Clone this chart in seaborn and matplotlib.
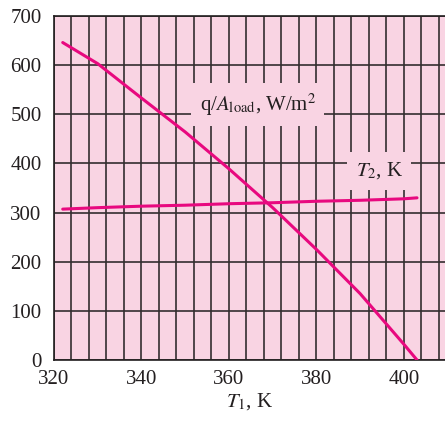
import numpy as np
import pandas as pd
import matplotlib
matplotlib.use("Agg")
import matplotlib.pyplot as plt
import seaborn as sns

# values
t1 = [322, 330, 340, 350, 360, 370, 380, 390, 400, 403]
q_load = [646, 603, 533, 464, 389, 310, 225, 135, 32, 0]
t2 = [307, 310, 313, 315, 318, 320, 323, 325, 328, 330]

x_ticks = [320, 340, 360, 380, 400]
y_ticks = [0, 100, 200, 300, 400, 500, 600, 700]

pink = "#f9d4e3"
magenta = "#e8097f"

df = pd.DataFrame({"T1": t1, "q": q_load, "T2": t2})

sns.set_style("white")
plt.rcParams["font.family"] = ["Liberation Serif", "DejaVu Serif"]
plt.rcParams["mathtext.fontset"] = "stix"

fig = plt.figure(figsize=(4.45, 4.21), dpi=100)
ax = fig.add_axes([0.1213, 0.1449, 0.8787, 0.8171])
ax.set_facecolor(pink)

sns.lineplot(data=df, x="T1", y="q", color=magenta, lw=2.2, ax=ax, zorder=3)
sns.lineplot(data=df, x="T1", y="T2", color=magenta, lw=2.2, ax=ax, zorder=3)

ax.set_xlim(320, 409.4)
ax.set_ylim(0, 700)
ax.set_xticks(x_ticks)
ax.set_xticks(np.arange(320, 410, 4), minor=True)
ax.set_yticks(y_ticks)
ax.grid(which="both", color="#332e30", lw=1.2, zorder=1)
ax.set_axisbelow(True)
ax.tick_params(which="both", length=0, labelsize=15, colors="#231f20")
ax.tick_params(axis="y", pad=9)
ax.tick_params(axis="x", pad=7)

for s in ["left", "bottom", "top"]:
    ax.spines[s].set_color("#231f20")
    ax.spines[s].set_linewidth(1.2)
ax.spines["right"].set_visible(False)

ax.set_xlabel(r"$T_1$, K", fontsize=15, color="#231f20", labelpad=2)
ax.set_ylabel("")

box = dict(facecolor=pink, edgecolor="none", pad=6)
ax.text(366.6, 519, r"q/$A_{\mathrm{load}}$, W/m$^2$", fontsize=15, color="#231f20",
        ha="center", va="center", bbox=box, zorder=4)
ax.text(394.4, 385, r"$T_2$, K", fontsize=15, color="#231f20",
        ha="center", va="center", bbox=box, zorder=4)

fig.savefig("out.png", dpi=100)
